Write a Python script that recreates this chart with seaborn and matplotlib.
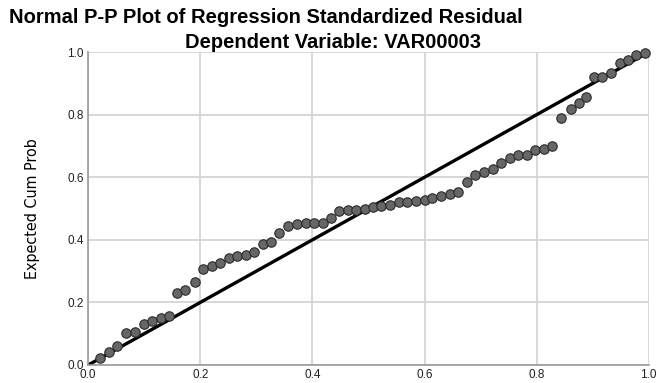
import numpy as np
import pandas as pd
import matplotlib
matplotlib.use("Agg")
import matplotlib.pyplot as plt
from matplotlib import font_manager
import seaborn as sns

# observed / expected cumulative probabilities
observed_cum_prob = [
    0.021, 0.037, 0.052, 0.068, 0.084, 0.099, 0.113, 0.130, 0.144, 0.158,
    0.172, 0.191, 0.204, 0.220, 0.235, 0.251, 0.266, 0.281, 0.296, 0.311,
    0.327, 0.341, 0.357, 0.372, 0.388, 0.403, 0.418, 0.433, 0.448, 0.463,
    0.478, 0.493, 0.508, 0.523, 0.538, 0.554, 0.569, 0.584, 0.600, 0.614,
    0.630, 0.645, 0.660, 0.675, 0.690, 0.706, 0.722, 0.737, 0.752, 0.767,
    0.782, 0.797, 0.813, 0.828, 0.844, 0.862, 0.875, 0.888, 0.902, 0.917,
    0.933, 0.948, 0.963, 0.978, 0.993,
]
expected_cum_prob = [
    0.021, 0.043, 0.060, 0.101, 0.106, 0.132, 0.140, 0.150, 0.155, 0.229,
    0.241, 0.266, 0.306, 0.315, 0.326, 0.343, 0.349, 0.351, 0.360, 0.388,
    0.392, 0.421, 0.444, 0.450, 0.453, 0.453, 0.453, 0.471, 0.492, 0.494,
    0.494, 0.499, 0.506, 0.509, 0.511, 0.520, 0.522, 0.524, 0.527, 0.535,
    0.539, 0.547, 0.553, 0.584, 0.608, 0.618, 0.626, 0.647, 0.662, 0.670,
    0.671, 0.686, 0.691, 0.700, 0.788, 0.817, 0.838, 0.857, 0.919, 0.921,
    0.932, 0.964, 0.974, 0.990, 0.996,
]
ref_line = [0.0, 1.0]
tick_values = [0.0, 0.2, 0.4, 0.6, 0.8, 1.0]
tick_labels = ["0.0", "0.2", "0.4", "0.6", "0.8", "1.0"]

df = pd.DataFrame({"observed": observed_cum_prob, "expected": expected_cum_prob})


def pick_narrow_font():
    # the y label in the reference is a condensed face; use one if installed
    for family, stretch in [("Liberation Sans Narrow", "normal"),
                            ("DejaVu Sans", "condensed")]:
        prop = font_manager.FontProperties(family=family, stretch=stretch)
        try:
            path = font_manager.findfont(prop, fallback_to_default=False)
        except ValueError:
            continue
        if "Narrow" in path or "Condensed" in path:
            return prop
    return font_manager.FontProperties(family="Liberation Sans")


sns.set_style("whitegrid")
plt.rcParams["font.family"] = ["Liberation Sans", "DejaVu Sans"]

fig = plt.figure(figsize=(6.58, 3.83), dpi=100)
ax = fig.add_axes([0.134, 0.047, 0.852, 0.817])

sns.lineplot(x=ref_line, y=ref_line, color="black", linewidth=2.4, ax=ax, zorder=2)
sns.scatterplot(data=df, x="observed", y="expected", s=46, color="#666666",
                edgecolor="#2a2a2a", linewidth=0.8, ax=ax, zorder=3, clip_on=False)

ax.set_xlim(0, 1)
ax.set_ylim(0, 1)
ax.set_xticks(tick_values)
ax.set_xticklabels(tick_labels)
ax.set_yticks(tick_values)
ax.set_yticklabels(tick_labels)
ax.tick_params(axis="both", labelsize=8.5, colors="#222222", length=0, pad=3)
ax.grid(True, color="#d4d4d4", linewidth=1.3)
ax.set_axisbelow(True)
for side in ["top", "right"]:
    ax.spines[side].set_visible(False)
for side in ["left", "bottom"]:
    ax.spines[side].set_color("#999999")
    ax.spines[side].set_linewidth(1.2)

ax.set_xlabel("")
label_font = pick_narrow_font()
label_font.set_size(11.5)
ax.set_ylabel("Expected Cum Prob", fontproperties=label_font, labelpad=20,
              color="black")

fig.text(0.404, 0.955, "Normal P-P Plot of Regression Standardized Residual",
         ha="center", va="center", fontsize=14.5, fontweight="bold", color="black")
fig.text(0.506, 0.89, "Dependent Variable: VAR00003",
         ha="center", va="center", fontsize=14.5, fontweight="bold", color="black")

fig.savefig("out.png", dpi=100)
